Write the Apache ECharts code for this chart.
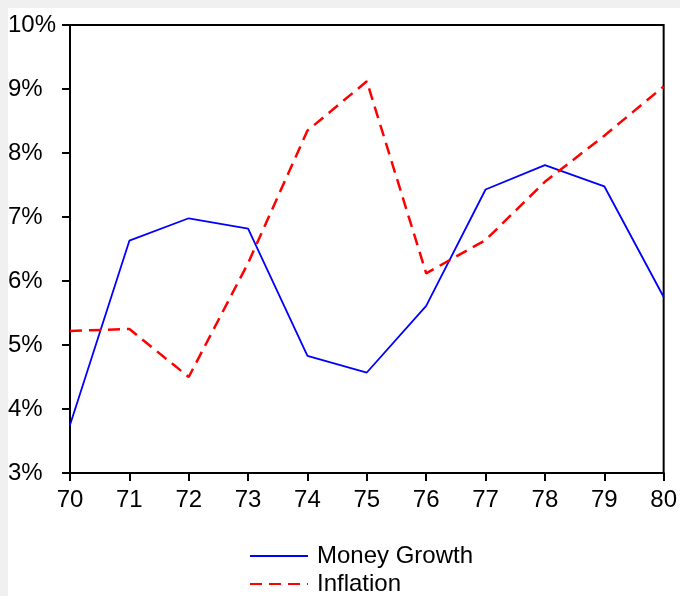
<!DOCTYPE html>
<html>
<head>
<meta charset="utf-8">
<script src="https://cdn.jsdelivr.net/npm/echarts@6/dist/echarts.min.js"></script>
<style>
html,body{margin:0;padding:0;background:#f0f0f0;}
#bg{position:absolute;left:8px;top:8px;width:672px;height:588px;background:#ffffff;}
#chart{position:absolute;left:0;top:0;width:680px;height:596px;}
</style>
</head>
<body>
<div id="bg"></div>
<div id="chart"></div>
<script>
const years = ['70','71','72','73','74','75','76','77','78','79','80'];
const moneyGrowth = [3.75, 6.63, 6.98, 6.82, 4.83, 4.57, 5.61, 7.43, 7.81, 7.48, 5.75];
const inflation = [5.22, 5.25, 4.50, 6.28, 8.35, 9.12, 6.12, 6.64, 7.55, 8.27, 9.04];
const yTicks = {min: 3, max: 10, interval: 1};

const chart = echarts.init(document.getElementById('chart'), null, {renderer: 'canvas'});
const font = 'Arial, "Liberation Sans", sans-serif';
function legendFor(name, top) {
  return {
    orient: 'vertical', left: 249, top: top,
    itemWidth: 58, itemHeight: 24, padding: 0,
    itemStyle: {opacity: 0},
    textStyle: {color: '#000', fontSize: 24, fontFamily: font, lineHeight: 24, padding: [0, 0, 0, 4]},
    data: [name]
  };
}
chart.setOption({
  backgroundColor: 'transparent',
  animation: false,
  grid: {left: 70, top: 25, right: 15, bottom: 123, show: true, borderColor: '#000', borderWidth: 2, backgroundColor: '#fff'},
  xAxis: {
    type: 'category', data: years, boundaryGap: false,
    axisLine: {lineStyle: {color: '#000', width: 2}},
    axisTick: {show: true, length: 8, alignWithLabel: true, lineStyle: {color: '#000', width: 2}},
    axisLabel: {color: '#000', fontSize: 24, fontFamily: font, margin: 15, interval: 0},
    splitLine: {show: false}
  },
  yAxis: {
    type: 'value', min: yTicks.min, max: yTicks.max, interval: yTicks.interval,
    axisLine: {show: true, lineStyle: {color: '#000', width: 2}},
    axisTick: {show: true, length: 8, lineStyle: {color: '#000', width: 2}},
    axisLabel: {color: '#000', fontSize: 24, fontFamily: font, margin: 62, align: 'left', formatter: '{value}%'},
    splitLine: {show: false}
  },
  legend: [legendFor('Money Growth', 544), legendFor('Inflation', 572)],
  series: [
    {name: 'Money Growth', type: 'line', data: moneyGrowth, symbol: 'none',
     lineStyle: {color: '#0000ff', width: 1.8}, itemStyle: {color: '#0000ff'}},
    {name: 'Inflation', type: 'line', data: inflation, symbol: 'none',
     lineStyle: {color: '#ff0000', width: 2.5, type: [12, 7]}, itemStyle: {color: '#ff0000'}}
  ]
});
</script>
</body>
</html>
